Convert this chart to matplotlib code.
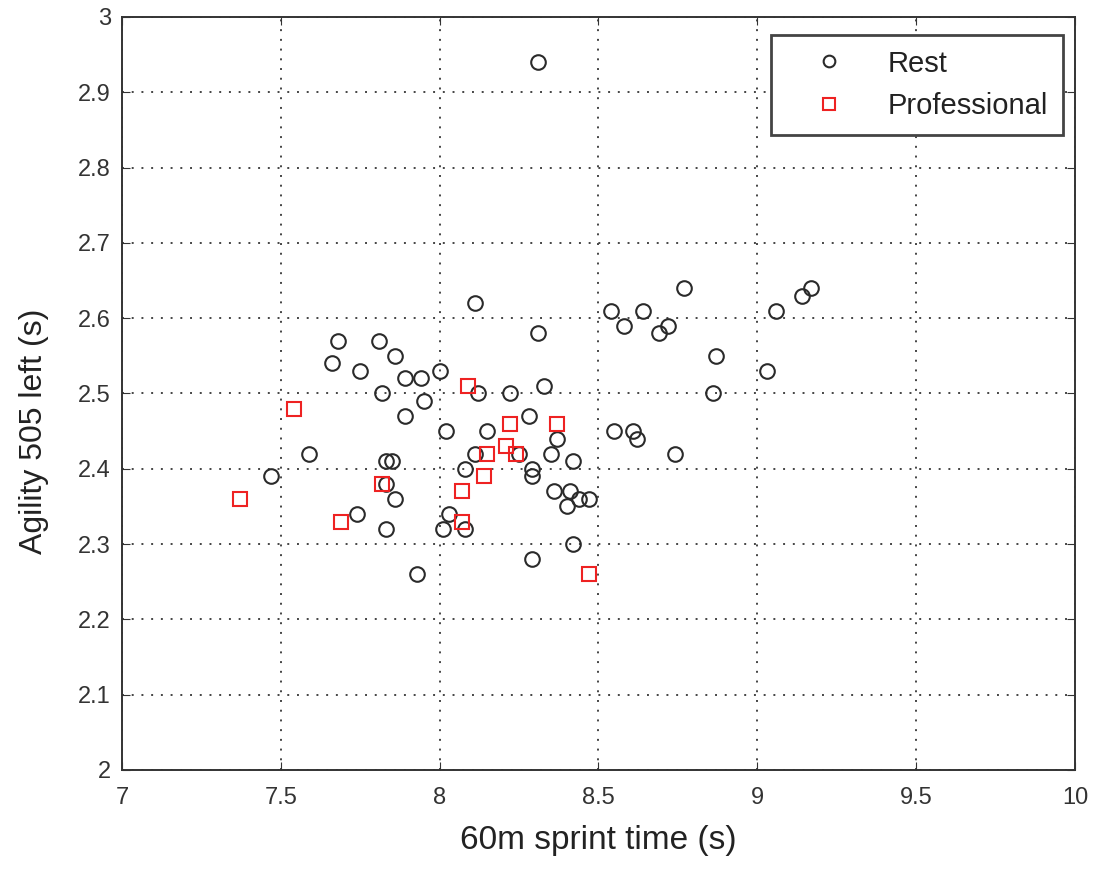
import matplotlib
matplotlib.use("Agg")
import matplotlib.pyplot as plt

rest_x = [8.31, 8.11, 8.31, 7.68, 7.81, 7.66, 7.86, 7.75, 7.89, 7.94, 8.00, 7.82,
          7.89, 7.95, 8.12, 8.22, 8.33, 8.28, 8.02, 8.15, 8.37, 8.35, 7.59, 7.47,
          7.83, 7.85, 8.11, 8.08, 8.25, 8.29, 8.29, 8.42, 8.36, 8.41, 8.40, 8.44,
          8.47, 7.86, 7.83, 7.74, 7.83, 8.03, 8.01, 8.08, 7.93, 8.29, 8.42, 8.55,
          8.61, 8.62, 8.74, 8.54, 8.64, 8.58, 8.69, 8.72, 8.77, 8.87, 8.86, 9.03,
          9.06, 9.14, 9.17]
rest_y = [2.94, 2.62, 2.58, 2.57, 2.57, 2.54, 2.55, 2.53, 2.52, 2.52, 2.53, 2.50,
          2.47, 2.49, 2.50, 2.50, 2.51, 2.47, 2.45, 2.45, 2.44, 2.42, 2.42, 2.39,
          2.41, 2.41, 2.42, 2.40, 2.42, 2.40, 2.39, 2.41, 2.37, 2.37, 2.35, 2.36,
          2.36, 2.36, 2.38, 2.34, 2.32, 2.34, 2.32, 2.32, 2.26, 2.28, 2.30, 2.45,
          2.45, 2.44, 2.42, 2.61, 2.61, 2.59, 2.58, 2.59, 2.64, 2.55, 2.50, 2.53,
          2.61, 2.63, 2.64]

pro_x = [7.37, 7.54, 7.69, 7.82, 8.09, 8.07, 8.07, 8.15, 8.14, 8.22, 8.21, 8.24,
         8.37, 8.47]
pro_y = [2.36, 2.48, 2.33, 2.38, 2.51, 2.37, 2.33, 2.42, 2.39, 2.46, 2.43, 2.42,
         2.46, 2.26]

x_ticks = [7, 7.5, 8, 8.5, 9, 9.5, 10]
x_labels = ["7", "7.5", "8", "8.5", "9", "9.5", "10"]
y_ticks = [2, 2.1, 2.2, 2.3, 2.4, 2.5, 2.6, 2.7, 2.8, 2.9, 3]
y_labels = ["2", "2.1", "2.2", "2.3", "2.4", "2.5", "2.6", "2.7", "2.8", "2.9", "3"]

plt.rcParams['font.family'] = ['Liberation Sans', 'DejaVu Sans']

fig = plt.figure(figsize=(11.04, 8.75), dpi=100)
ax = fig.add_axes([0.1105, 0.12, 0.8632, 0.8606])

ax.plot(rest_x, rest_y, linestyle='none', marker='o', markersize=10.5,
        markerfacecolor='none', markeredgecolor='#2a2a2a', markeredgewidth=1.5,
        label='Rest')
ax.plot(pro_x, pro_y, linestyle='none', marker='s', markersize=10.5,
        markerfacecolor='none', markeredgecolor='#ee2222', markeredgewidth=1.5,
        label='Professional')

ax.set_xlim(7, 10)
ax.set_ylim(2, 3)
ax.set_xticks(x_ticks)
ax.set_xticklabels(x_labels)
ax.set_yticks(y_ticks)
ax.set_yticklabels(y_labels)
ax.tick_params(direction='in', length=6, labelsize=17, top=True, right=True,
               colors='#333333', labelcolor='#333333')
ax.tick_params(axis='x', pad=12)
ax.tick_params(axis='y', pad=8)
ax.grid(True, linestyle=(0, (1, 4)), color='#444444', linewidth=1.4)
for s in ax.spines.values():
    s.set_linewidth(1.4)
    s.set_color('#333333')

ax.set_xlabel('60m sprint time (s)', fontsize=24, labelpad=12, color='#222222')
ax.set_ylabel('Agility 505 left (s)', fontsize=23, color='#222222')
ax.yaxis.set_label_coords(-0.077, 0.45)

leg = ax.legend(loc='upper right', fontsize=21, fancybox=False, framealpha=1,
                edgecolor='#444444', borderpad=0.5, handletextpad=0.5,
                labelspacing=0.5, markerscale=0.8, handlelength=3.0,
                borderaxespad=0, bbox_to_anchor=(0.987, 0.976))
leg.get_frame().set_linewidth(2)
for t in leg.get_texts():
    t.set_color('#222222')

fig.savefig('out.png', dpi=100)
